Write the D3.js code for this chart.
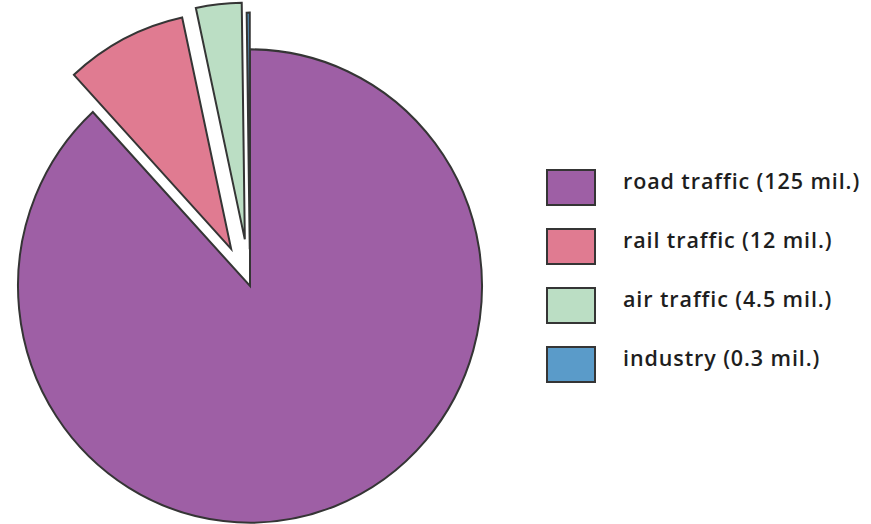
<!DOCTYPE html>
<html>
<head>
<meta charset="utf-8">
<script src="https://cdn.jsdelivr.net/npm/d3@7"></script>
<style>
  html, body { margin: 0; padding: 0; background: #fff; }
  svg { display: block; }
</style>
</head>
<body>
<svg id="chart" width="871" height="524"></svg>
<script>
// ---- data ----
const categories = ["road traffic", "rail traffic", "air traffic", "industry"];
const values = [125, 12, 4.5, 0.3];
const labels = ["road traffic (125 mil.)", "rail traffic (12 mil.)", "air traffic (4.5 mil.)", "industry (0.3 mil.)"];
const colors = ["#9e5fa5", "#e07b91", "#bbdec4", "#5a9bc9"];
const explode = [0, 41, 46, 36];

const svg = d3.select("#chart");
const R = 232;
const cx = 250, cy = 286;

const pie = d3.pie().sort(null).value(d => d.value);
const data = categories.map((c, i) => ({ name: c, value: values[i], label: labels[i], color: colors[i], explode: explode[i] }));
const arcs = pie(data);
const arc = d3.arc().innerRadius(0).outerRadius(R);

const g = svg.append("g").attr("transform", `translate(${cx},${cy}) scale(1,1.02)`);

g.selectAll("path")
  .data(arcs)
  .join("path")
  .attr("d", arc)
  .attr("fill", d => d.data.color)
  .attr("stroke", "#353535")
  .attr("stroke-width", 2)
  .attr("stroke-linejoin", "miter")
  .attr("transform", d => {
    const a = (d.startAngle + d.endAngle) / 2;
    const dx = Math.sin(a) * d.data.explode;
    const dy = -Math.cos(a) * d.data.explode;
    return `translate(${dx},${dy})`;
  });

// ---- legend ----
const legendX = 547, legendY = 170, rowH = 59, boxW = 48, boxH = 35;
const lg = svg.append("g");
const rows = lg.selectAll("g")
  .data(data)
  .join("g")
  .attr("transform", (d, i) => `translate(${legendX},${legendY + i * rowH})`);

rows.append("rect")
  .attr("x", 0).attr("y", 0)
  .attr("width", boxW).attr("height", boxH)
  .attr("fill", d => d.color)
  .attr("stroke", "#353535")
  .attr("stroke-width", 2);

rows.append("text")
  .attr("x", 76)
  .attr("y", boxH / 2 + 1)
  .attr("font-family", "'Open Sans', sans-serif")
  .attr("font-size", 21.5)
  .attr("font-weight", 600)
  .attr("letter-spacing", 0.9)
  .attr("fill", "#1e1e1e")
  .text(d => d.label);
</script>
</body>
</html>
